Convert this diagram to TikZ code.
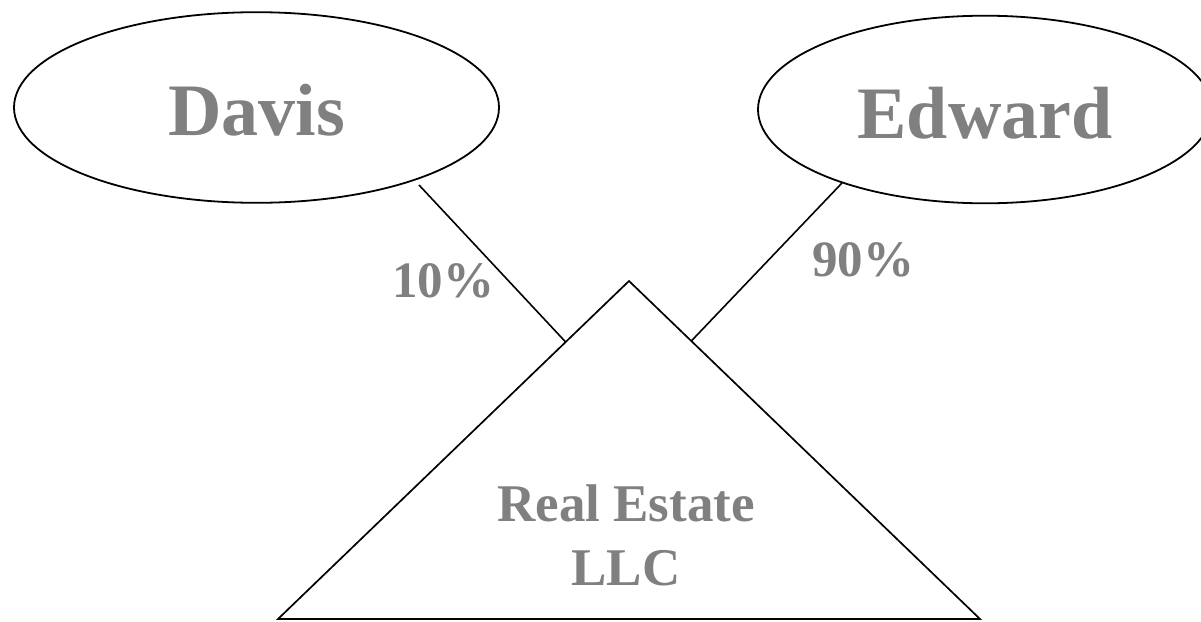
\documentclass[tikz,border=0pt]{standalone}
\usepackage{fontspec}
\setmainfont{Liberation Serif}
\usetikzlibrary{shapes.geometric,calc}
\definecolor{labelgray}{RGB}{128,128,128}
\begin{document}
\begin{tikzpicture}[x=1pt,y=-1pt,
  person/.style={draw,ellipse,line width=1.8pt,inner sep=0pt,text=labelgray,
    text depth=0pt,font=\fontsize{74}{80}\selectfont\bfseries},
  pct/.style={text=labelgray,inner sep=0pt,font=\fontsize{51}{60}\selectfont\bfseries},
  llc/.style={text=labelgray,inner sep=0pt,align=center,font=\fontsize{53}{64}\selectfont\bfseries},
  link/.style={line width=1.6pt},
  tri/.style={line width=1.7pt,line join=miter}]
\useasboundingbox (0,0) rectangle (1201,621);
\node[person,minimum width=485pt,minimum height=190.6pt,text height=55pt] (davis) at (256.5,107.5) {Davis};
\node[person,minimum width=454pt,minimum height=187.6pt,text height=57pt] (edward) at (985,109.5) {Edward};
\coordinate (tl) at (278,619);
\coordinate (tr) at (980,619);
\coordinate (ta) at (629,281);
\draw[tri] (tl) -- (ta) -- (tr) -- cycle;
\coordinate (dstart) at (419,185);
\coordinate (estart) at (842,183);
\coordinate (dend) at ($(tl)!0.8195!(ta)$);
\coordinate (eend) at ($(tr)!0.8225!(ta)$);
\draw[link] (dstart) -- (dend);
\draw[link] (estart) -- (eend);
\node[pct] (p10) at (443,281) {10\%};
\node[pct] (p90) at (863,260) {90\%};
\node[llc] (rellc) at (626,535) {Real Estate\\LLC};
\end{tikzpicture}
\end{document}
